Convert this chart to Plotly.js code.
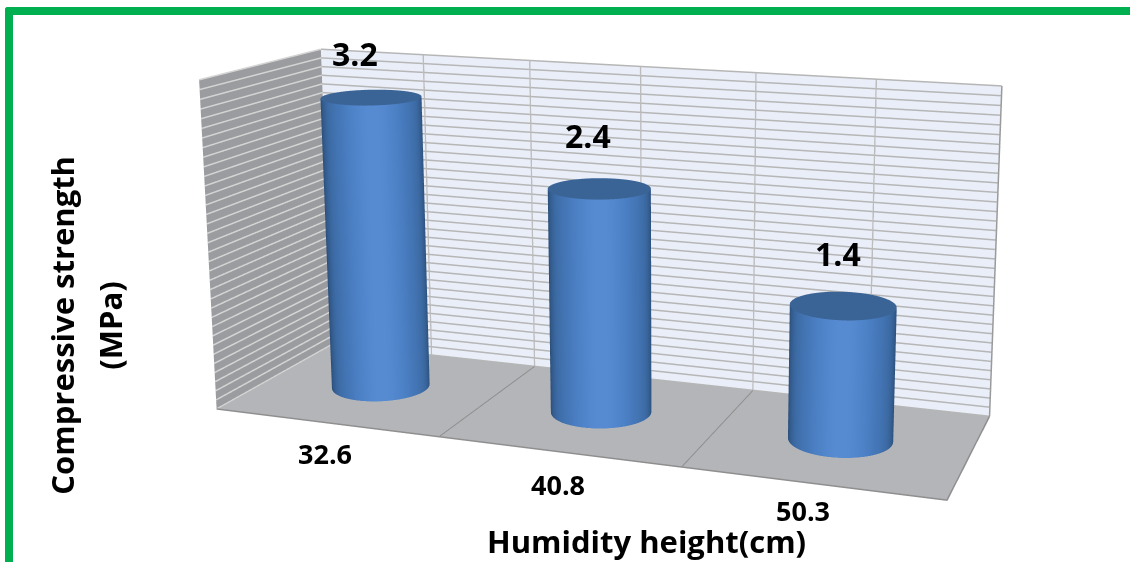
<!DOCTYPE html>
<html><head><meta charset="utf-8"><script src="https://cdn.plot.ly/plotly-3.0.1.min.js"></script>
<style>html,body{margin:0;background:#fff;overflow:hidden;width:1130px;height:562px}#chart{position:absolute}#frame{position:absolute;left:5px;top:7px;right:0;bottom:0;border-top:8px solid #00b050;border-left:8px solid #00b050;border-top-left-radius:3px;pointer-events:none}</style></head>
<body><div id="chart"></div><div id="frame"></div>
<script>
// Chart data
var categories = ['32.6', '40.8', '50.3'];
var strengths = [3.2, 2.4, 1.4];
var axisMax = 3.5;
var gridStep = 0.1;
var xTitle = 'Humidity height(cm)';
var yTitleLines = ['Compressive strength', '(MPa)'];

// Scene view: Plotly's perspective has a fixed field of view, so the plot div is
// sized and offset to give the wanted focal length and principal point.
var eye = {x: 0.8453, y: -2.1209, z: 0.5888};
var center = {x: 0.0980, y: 0.2237, z: 0.0939};
var up = {x: 0.0301, y: -0.1132, z: 1};
var aspect = {x: 1, y: 0.3073, z: 0.4512};
var W = 1446, H = 1466, L = 0, T = -577.66;
var el = document.getElementById('chart');
el.style.left = L + 'px';
el.style.top = T + 'px';

var FONT = '"Open Sans", sans-serif';
var FLAT = {ambient: 1, diffuse: 0, specular: 0, roughness: 1, fresnel: 0};
var NOCONTOUR = {x: {highlight: false}, y: {highlight: false}, z: {highlight: false}};
var SIDE_SCALE = [[0, '#27476f'], [0.25, '#315888'], [0.5, '#3c6aa3'], [0.8, '#4679bb'], [0.95, '#5085cb'], [1, '#568bd2']];
var CAP = '#3b6496';
var RX = 0.205, RY = 0.212, YC = 0.51, XOFF = -0.008;

// Cylinder wall, shaded by how directly each facet faces the viewer
function cylinder(xc, value) {
  var xs = [], ys = [], zs = [], cs = [];
  var camAngle = Math.atan2(eye.y, eye.x - (xc / 3 - 0.5));
  for (var i = 0; i <= 4; i++) {
    var rx = [], ry = [], rz = [], rc = [];
    for (var a = 0; a <= 96; a++) {
      var th = a / 96 * 2 * Math.PI;
      rx.push(xc + RX * Math.cos(th));
      ry.push(YC + RY * Math.sin(th));
      rz.push(value * i / 4);
      rc.push(Math.max(0, Math.cos(th - camAngle)));
    }
    xs.push(rx); ys.push(ry); zs.push(rz); cs.push(rc);
  }
  return {type: 'surface', x: xs, y: ys, z: zs, surfacecolor: cs, cmin: 0, cmax: 1,
    colorscale: SIDE_SCALE, showscale: false, lighting: FLAT, contours: NOCONTOUR, hoverinfo: 'skip'};
}
// Flat top of a cylinder
function cap(xc, value) {
  var xs = [], ys = [], zs = [], cs = [];
  for (var i = 0; i <= 4; i++) {
    var rx = [], ry = [], rz = [], rc = [];
    for (var a = 0; a <= 96; a++) {
      var th = a / 96 * 2 * Math.PI, k = i / 4;
      rx.push(xc + k * RX * Math.cos(th));
      ry.push(YC + k * RY * Math.sin(th));
      rz.push(value);
      rc.push(0);
    }
    xs.push(rx); ys.push(ry); zs.push(rz); cs.push(rc);
  }
  return {type: 'surface', x: xs, y: ys, z: zs, surfacecolor: cs, cmin: 0, cmax: 1,
    colorscale: [[0, CAP], [1, CAP]], showscale: false, lighting: FLAT, contours: NOCONTOUR, hoverinfo: 'skip'};
}
function line3(x, y, z, color, width) {
  return {type: 'scatter3d', mode: 'lines', x: x, y: y, z: z, connectgaps: false,
    line: {color: color, width: width}, hoverinfo: 'skip', showlegend: false};
}

// Horizontal gridlines, one trace per wall because the two walls use different greys
var backX = [], backY = [], backZ = [], sideX = [], sideY = [], sideZ = [];
for (var n = 0; n * gridStep <= axisMax + 1e-9; n++) {
  var level = n * gridStep;
  backX.push(0, 3, null); backY.push(1, 1, null); backZ.push(level, level, null);
  sideX.push(0, 0, null); sideY.push(0, 1, null); sideZ.push(level, level, null);
}
var traces = [
  line3(backX, backY, backZ, '#b6b6b6', 3),
  line3(sideX, sideY, sideZ, '#d4d4d4', 3)
];
// Vertical lines on the back wall at every half category
[0.5, 1, 1.5, 2, 2.5].forEach(function (x) { traces.push(line3([x, x], [1, 1], [0, axisMax], '#bdbdbd', 3)); });
// Category dividers on the floor and the chart's outer edges
[1, 2].forEach(function (x) { traces.push(line3([x, x], [0, 1], [0, 0], '#8e8e8e', 2)); });
traces.push(line3([0, 3, 3], [0, 0, 1], [0, 0, 0], '#8f8f8f', 3));
traces.push(line3([3, 3], [1, 1], [0, axisMax], '#9a9a9a', 3));

categories.forEach(function (c, i) {
  traces.push(cylinder(i + 0.5 + XOFF, strengths[i]));
  traces.push(cap(i + 0.5 + XOFF, strengths[i]));
});

var tickShift = [[0, -31], [0, -33], [-8, -27]];
var valueShift = [[-18, 44], [-13, 53], [-7, 52]];
var sceneNotes = [];
categories.forEach(function (c, i) {
  sceneNotes.push({x: i + 0.5, y: 0, z: 0, text: c, showarrow: false, xshift: tickShift[i][0], yshift: tickShift[i][1],
    font: {family: FONT, size: 27, color: '#000', weight: 700}});
  sceneNotes.push({x: i + 0.5, y: YC, z: strengths[i], text: strengths[i].toFixed(1), showarrow: false, xshift: valueShift[i][0], yshift: valueShift[i][1],
    font: {family: FONT, size: 32, color: '#000', weight: 700}});
});

function axis(range, extra) {
  return Object.assign({range: range, autorange: false, showticklabels: false, ticks: '', title: {text: ''},
    zeroline: false, showline: false, showspikes: false, showgrid: false, showbackground: true}, extra);
}
function px(x) { return (x - L) / W; }
function py(y) { return 1 - (y - T) / H; }
function pageNote(text, x, y, angle) {
  return {xref: 'paper', yref: 'paper', x: px(x), y: py(y), xanchor: 'center', yanchor: 'middle', text: text, textangle: angle,
    showarrow: false, font: {family: FONT, size: 31, color: '#000', weight: 700}};
}

var layout = {
  width: W, height: H, margin: {l: 0, r: 0, t: 0, b: 0}, paper_bgcolor: '#fff', showlegend: false,
  scene: {
    domain: {x: [0, 1], y: [0, 1]}, aspectmode: 'manual', aspectratio: aspect,
    camera: {eye: eye, center: center, up: up},
    xaxis: axis([0, 3], {backgroundcolor: '#9a9c9f'}),
    yaxis: axis([0, 1], {backgroundcolor: '#e9eef8'}),
    zaxis: axis([0, axisMax], {backgroundcolor: '#b3b5b8'}),
    annotations: sceneNotes
  },
  annotations: [
    pageNote(xTitle, 646, 541, 0),
    pageNote(yTitleLines[0], 62, 326, -90),
    pageNote(yTitleLines[1], 110, 326, -90)
  ]
};
Plotly.newPlot(el, traces, layout, {displayModeBar: false});
</script></body></html>
